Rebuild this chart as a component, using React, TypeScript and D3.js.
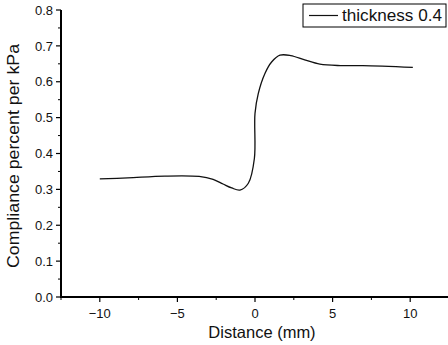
import React from "react";
import * as d3 from "d3";

const distance = [-10, -8.2, -5.8, -3.6, -2.7, -2.06, -1.5, -0.97, -0.43, -0.04, 0, 0.21, 0.64, 1.07, 1.61, 2.3, 3.2, 4.18, 5.5, 6.95, 10.17];
const compliance = [0.329, 0.332, 0.337, 0.336, 0.328, 0.315, 0.304, 0.298, 0.317, 0.386, 0.512, 0.567, 0.623, 0.655, 0.674, 0.673, 0.661, 0.649, 0.645, 0.645, 0.64];
const xMajorTicks = [-10, -5, 0, 5, 10];
const xMinorTicks = [-12.5, -7.5, -2.5, 2.5, 7.5, 12.5];
const yMajorTicks = [0, 0.1, 0.2, 0.3, 0.4, 0.5, 0.6, 0.7, 0.8];
const yMinorTicks = [0.05, 0.15, 0.25, 0.35, 0.45, 0.55, 0.65, 0.75];
const legendLabel = "thickness 0.4";

export default function App() {
  const W = 448, H = 345;
  const x = d3.scaleLinear().domain([-12.5, 12.5]).range([61, 449]);
  const y = d3.scaleLinear().domain([0, 0.8]).range([297, 10]);
  const pts = distance.map((d, i) => [d, compliance[i]] as [number, number]);
  const line = d3.line<[number, number]>().x(d => x(d[0])).y(d => y(d[1])).curve(d3.curveCatmullRom.alpha(0.5));
  const font = "'Liberation Sans', Arial, sans-serif";
  const fmtX = (v: number) => (v < 0 ? "\u2212" + Math.abs(v) : String(v));
  return (
    <svg width={W} height={H} style={{ position: "absolute", left: 0, top: 0, background: "#fff" }} fontFamily={font}>
      <rect x={0} y={0} width={W} height={H} fill="#fff" />
      {/* axes */}
      <line x1={x(-12.5)} x2={x(-12.5)} y1={y(0.8)} y2={y(0) + 1} stroke="#000" strokeWidth={2} />
      <line x1={x(-12.5) - 1} x2={W} y1={y(0)} y2={y(0)} stroke="#000" strokeWidth={2} />
      {yMajorTicks.map(t => (
        <g key={"ym" + t}>
          <line x1={x(-12.5) - 5} x2={x(-12.5)} y1={y(t)} y2={y(t)} stroke="#000" strokeWidth={1.2} />
          <text x={x(-12.5) - 8} y={y(t)} dy="0.36em" textAnchor="end" fontSize={13} fill="#111">{t.toFixed(1)}</text>
        </g>
      ))}
      {yMinorTicks.map(t => (
        <line key={"yn" + t} x1={x(-12.5) - 3} x2={x(-12.5)} y1={y(t)} y2={y(t)} stroke="#000" strokeWidth={1} />
      ))}
      {xMajorTicks.map(t => (
        <g key={"xm" + t}>
          <line x1={x(t)} x2={x(t)} y1={y(0)} y2={y(0) + 5} stroke="#000" strokeWidth={1.2} />
          <text x={x(t)} y={y(0) + 21} textAnchor="middle" fontSize={13} fill="#111">{fmtX(t)}</text>
        </g>
      ))}
      {xMinorTicks.map(t => (
        <line key={"xn" + t} x1={x(t)} x2={x(t)} y1={y(0)} y2={y(0) + 3} stroke="#000" strokeWidth={1} />
      ))}
      <text x={262} y={338} textAnchor="middle" fontSize={16.5} fill="#111">Distance (mm)</text>
      <text transform={`translate(19,${156}) rotate(-90)`} textAnchor="middle" fontSize={17} textLength={224} lengthAdjust="spacingAndGlyphs" fill="#111">Compliance percent per kPa</text>
      {/* curve */}
      <path d={line(pts) || ""} fill="none" stroke="#111" strokeWidth={1.3} />
      {/* legend */}
      <rect x={303} y={4} width={143} height={23} fill="#fff" stroke="#000" strokeWidth={1} />
      <line x1={309} x2={338} y1={15.5} y2={15.5} stroke="#111" strokeWidth={1.2} />
      <text x={342} y={15.5} dy="0.36em" fontSize={16} textLength={100} lengthAdjust="spacingAndGlyphs" fill="#111">{legendLabel}</text>
    </svg>
  );
}
